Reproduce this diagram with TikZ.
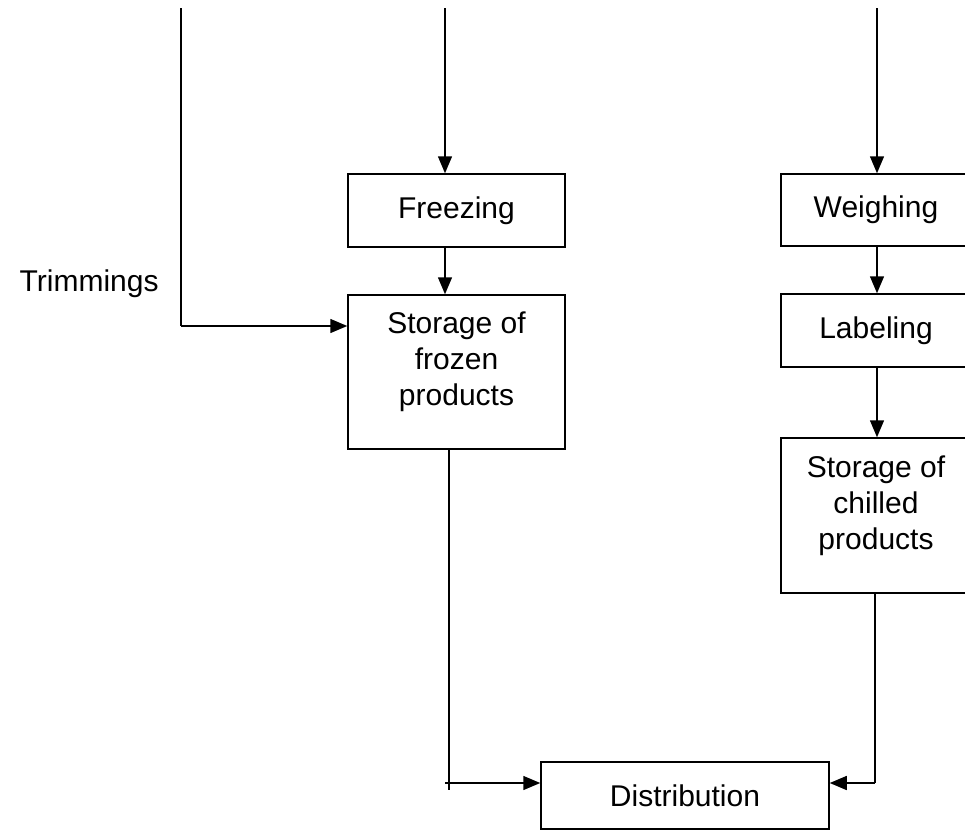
\documentclass[tikz,border=0pt]{standalone}
\usepackage{fontspec}
\setmainfont{Liberation Sans}
\usetikzlibrary{arrows.meta}
\tikzset{
  stage/.style={draw, line width=0.75pt, inner sep=0pt, align=center, font=\fontsize{15}{18}\selectfont},
  store/.style={stage, text depth=13pt},
  flow/.style={line width=0.75pt, -{Triangle[length=8.5pt,width=7pt]}},
  feed/.style={line width=0.75pt},
}
\begin{document}
\begin{tikzpicture}[x=0.5pt,y=-0.5pt]
\useasboundingbox (0,0) rectangle (965,830);
% process boxes
\node[stage, minimum width=108.5pt, minimum height=36.5pt] (frz) at (456.5,210.5) {Freezing};
\node[store, minimum width=108.5pt, minimum height=77pt] (sfz) at (456.5,372) {Storage of\\frozen\\products};
\node[stage, minimum width=95pt, minimum height=36pt] (wgh) at (876,210) {Weighing};
\node[stage, minimum width=95pt, minimum height=36.5pt] (lab) at (876,330.5) {Labeling};
\node[store, minimum width=95pt, minimum height=77.5pt] (chl) at (876,515.5) {Storage of\\chilled\\products};
\node[stage, minimum width=144pt, minimum height=33.5pt] (dst) at (685,795.5) {Distribution};
\node[font=\fontsize{15}{18}\selectfont, anchor=east, inner sep=0pt] (trim) at (159,284) {Trimmings};
% incoming lines
\coordinate (tl) at (181,8);
\coordinate (tlb) at (181,326);
\coordinate (tm) at (445,8);
\coordinate (tr) at (877,8);
\draw[feed] (tl) -- (tlb);
\draw[flow] (tlb) -- (tlb -| sfz.west);
\draw[flow] (tm) -- (tm |- frz.north);
\draw[flow] (frz.south -| tm) -- (sfz.north -| tm);
\draw[flow] (tr) -- (tr |- wgh.north);
\draw[flow] (wgh.south -| tr) -- (lab.north -| tr);
\draw[flow] (lab.south -| tr) -- (chl.north -| tr);
% to distribution
\coordinate (bl) at (449,790);
\coordinate (blh) at (445,783);
\coordinate (br) at (875,783);
\draw[feed] (sfz.south -| bl) -- (bl);
\draw[flow] (blh) -- (blh -| dst.west);
\draw[feed] (chl.south -| br) -- (br);
\draw[flow] (br) -- (br -| dst.east);
\end{tikzpicture}
\end{document}
